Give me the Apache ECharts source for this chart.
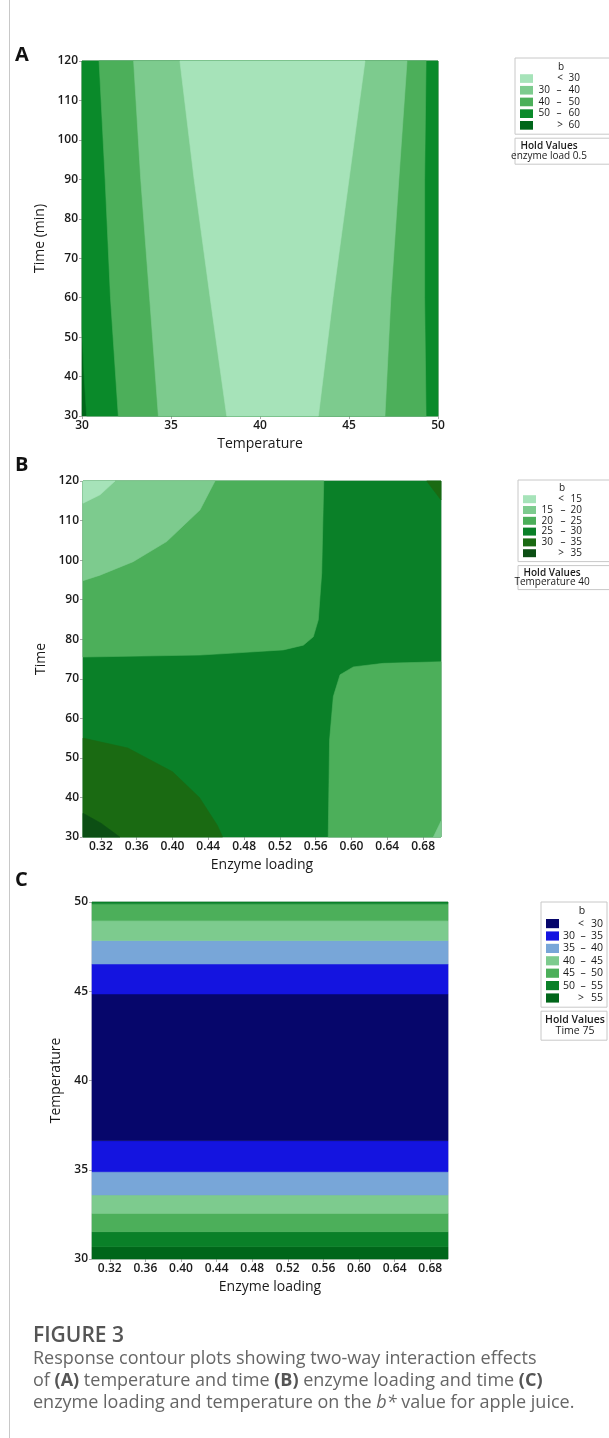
<!DOCTYPE html>
<html>
<head>
<meta charset="utf-8">
<script src="https://cdn.jsdelivr.net/npm/echarts@6/dist/echarts.min.js"></script>
<style>
  html, body { margin: 0; padding: 0; background: #fff; }
  #chart { width: 609px; height: 1438px; }
</style>
</head>
<body>
<div id="chart"></div>
<script>
// tick labels
const tempTicks = [30, 35, 40, 45, 50];
const timeTicks = [30, 40, 50, 60, 70, 80, 90, 100, 110, 120];
const enzymeTicks = [0.32, 0.36, 0.40, 0.44, 0.48, 0.52, 0.56, 0.60, 0.64, 0.68];

// ---- panel A : b vs temperature & time (enzyme load 0.5)
const levelsA = [['<', '30'], ['30', '40'], ['40', '50'], ['50', '60'], ['>', '60']];
const colorsA = ['#a6e3b9', '#7dcb8e', '#4caf5a', '#0a8a2a', '#00661a'];
// contour lines, [temperature, time], top to bottom
const a60Left = [[30, 120], [30, 52], [30.12, 40], [30.26, 30]];
const a60Right = [[50, 120], [50, 30]];
const a50Left = [[30.96, 120], [31.3, 90], [31.6, 60], [32.04, 30]];
const a50Right = [[49.33, 120], [49.25, 90], [49.25, 60], [49.33, 30]];
const a40Left = [[32.9, 120], [33.3, 90], [33.8, 60], [34.29, 30]];
const a40Right = [[48.26, 120], [47.8, 90], [47.35, 60], [47.02, 30]];
const a30Left = [[35.5, 120], [36.3, 90], [37.2, 60], [38.13, 30]];
const a30Right = [[45.9, 120], [45.0, 90], [44.1, 60], [43.28, 30]];

// ---- panel B : b vs enzyme loading & time (temperature 40)
const levelsB = [['<', '15'], ['15', '20'], ['20', '25'], ['25', '30'], ['30', '35'], ['>', '35']];
const colorsB = ['#a6e3b9', '#7dcb8e', '#4caf5a', '#0a8028', '#1a6a12', '#0c4f14'];
const bTopLeft20 = [[0.30, 120], [0.569, 120], [0.5667, 96.7], [0.5629, 84.9], [0.5573, 80.6],
  [0.5462, 78.5], [0.5238, 77.3], [0.468, 76.5], [0.4307, 76], [0.30, 75.5]];
const bTopLeft15 = [[0.30, 120], [0.4475, 120], [0.4307, 112.7], [0.3935, 104.7], [0.356, 99.6],
  [0.319, 96.2], [0.30, 94.8]];
const bTopLeftLow = [[0.30, 120], [0.3358, 120], [0.319, 116.5], [0.30, 114.4]];
const bBottomRight20 = [[0.574, 30], [0.5755, 54.5], [0.5797, 65.5], [0.5872, 71], [0.602, 73],
  [0.6355, 73.9], [0.70, 74.3], [0.70, 30]];
const bBottomRight15 = [[0.6915, 30], [0.70, 34], [0.70, 30]];
const bTopRight30 = [[0.684, 120], [0.70, 120], [0.70, 115.2]];
const bBottomLeft30 = [[0.30, 55], [0.35, 52.5], [0.40, 46.5], [0.43, 40], [0.45, 33], [0.456, 30], [0.30, 30]];
const bBottomLeft35 = [[0.30, 36], [0.32, 33.5], [0.341, 30], [0.30, 30]];

// ---- panel C : b vs enzyme loading & temperature (time 75)
const levelsC = [['<', '30'], ['30', '35'], ['35', '40'], ['40', '45'], ['45', '50'], ['50', '55'], ['>', '55']];
const colorsC = ['#06066b', '#1414e0', '#78a6d8', '#7dcb8e', '#4caf5a', '#0a8028', '#00661a'];
const cEdges = [30, 30.69, 31.53, 32.56, 33.59, 34.89, 36.63, 44.85, 46.53, 47.84, 48.96, 49.9, 50];
const cBandLevel = [6, 5, 4, 3, 2, 1, 0, 1, 2, 3, 4, 5];

// build polygons
function band(left, right) {
  return left.concat(right.slice().reverse());
}
const regionsA = [
  { level: 4, pts: band([[30, 120], [30, 30]], [[50, 120], [50, 30]]) },
  { level: 3, pts: band(a60Left, a60Right) },
  { level: 2, pts: band(a50Left, a50Right) },
  { level: 1, pts: band(a40Left, a40Right) },
  { level: 0, pts: band(a30Left, a30Right) }
];
const regionsB = [
  { level: 3, pts: [[0.30, 120], [0.70, 120], [0.70, 30], [0.30, 30]] },
  { level: 2, pts: bTopLeft20 },
  { level: 1, pts: bTopLeft15 },
  { level: 0, pts: bTopLeftLow },
  { level: 2, pts: bBottomRight20 },
  { level: 1, pts: bBottomRight15 },
  { level: 4, pts: bTopRight30 },
  { level: 4, pts: bBottomLeft30 },
  { level: 5, pts: bBottomLeft35 }
];
const regionsC = cBandLevel.map((lv, i) => ({
  level: lv,
  pts: [[0.30, cEdges[i]], [0.70, cEdges[i]], [0.70, cEdges[i + 1]], [0.30, cEdges[i + 1]]]
}));

function polySeries(idx, regions, colors) {
  return {
    type: 'custom',
    xAxisIndex: idx,
    yAxisIndex: idx,
    silent: true,
    data: regions.map((r, i) => i),
    renderItem: function (params, api) {
      const r = regions[params.dataIndex];
      const c = colors[r.level];
      return {
        type: 'polygon',
        shape: { points: r.pts.map(p => api.coord(p)) },
        style: { fill: c, stroke: c, lineWidth: 0.6 }
      };
    }
  };
}

const FONT = '"Open Sans", "Noto Sans", sans-serif';
const tickLabel = { color: '#1a1a1a', fontSize: 12, fontFamily: FONT, fontWeight: 600, margin: 4 };
const axisName = { color: '#1a1a1a', fontSize: 14, fontFamily: FONT };
const tick = { show: true, length: 3, lineStyle: { color: '#aaa' } };

function xAxis(idx, min, max, interval, name, custom) {
  const ax = {
    type: 'value', gridIndex: idx, min: min, max: max,
    name: name, nameLocation: 'middle', nameGap: 21, nameTextStyle: axisName,
    axisLine: { show: false }, splitLine: { show: false },
    axisTick: Object.assign({}, tick), axisLabel: Object.assign({}, tickLabel)
  };
  if (custom) {
    ax.axisLabel.customValues = custom;
    ax.axisLabel.formatter = v => v.toFixed(2);
    ax.axisTick.customValues = custom;
  } else {
    ax.interval = interval;
  }
  return ax;
}
function yAxis(idx, min, max, interval, name, gap) {
  return {
    type: 'value', gridIndex: idx, min: min, max: max, interval: interval,
    name: name, nameLocation: 'middle', nameGap: gap, nameTextStyle: axisName,
    axisLine: { show: false }, splitLine: { show: false },
    axisTick: tick, axisLabel: tickLabel
  };
}

// legends
function txt(x, y, s, fs, align, weight) {
  return { type: 'text', x: x, y: y,
    style: { text: s, font: (weight || '') + ' ' + fs + 'px ' + FONT, fill: '#1a1a1a',
      align: align, verticalAlign: 'middle' } };
}
// col = [first number right edge, dash centre, second number right edge, '<' centre]
function legendBox(x, y, w, rowH, fs, levels, colors, col, holdText, holdGap, holdH) {
  const els = [];
  const boxH = rowH * (levels.length + 1) + 6;
  els.push({ type: 'rect', shape: { x: x, y: y, width: w, height: boxH },
    style: { fill: '#fff', stroke: '#c8c8c8', lineWidth: 1 } });
  els.push(txt(x + col[3] + 1, y + 3 + rowH / 2, 'b', fs, 'center'));
  levels.forEach((lv, i) => {
    const cy = y + 3 + rowH * (i + 1.5);
    els.push({ type: 'rect', shape: { x: x + 5, y: cy - rowH * 0.37, width: 13, height: rowH * 0.74 },
      style: { fill: colors[i] } });
    if (lv[0] === '<' || lv[0] === '>') {
      els.push(txt(x + col[3], cy, lv[0], fs, 'center'));
    } else {
      els.push(txt(x + col[0], cy, lv[0], fs, 'right'));
      els.push(txt(x + col[1], cy, '–', fs, 'center'));
    }
    els.push(txt(x + col[2], cy, lv[1], fs, 'right'));
  });
  const hy = y + boxH + holdGap;
  els.push({ type: 'rect', shape: { x: x, y: hy, width: w, height: holdH },
    style: { fill: '#fff', stroke: '#c8c8c8', lineWidth: 1 } });
  els.push(txt(x + 34, hy + holdH * 0.3, 'Hold Values', fs, 'center', 600));
  els.push(txt(x + 34, hy + holdH * 0.7, holdText, fs, 'center'));
  return els;
}

const panelLabel = (t, y) => ({ type: 'text', x: 15, y: y,
  style: { text: t, font: 'bold 20px ' + FONT, fill: '#111', verticalAlign: 'middle' } });

const capFont = '18px ' + FONT;
const capRich = { b: { font: 'bold 18px ' + FONT, fill: '#555' }, i: { font: 'italic 18px ' + FONT, fill: '#666' } };
function capLine(text, y) {
  return { type: 'text', x: 33, y: y,
    style: { text: text, font: capFont, fill: '#666', verticalAlign: 'middle', rich: capRich } };
}

const chart = echarts.init(document.getElementById('chart'), null, { renderer: 'canvas' });
chart.setOption({
  animation: false,
  grid: [
    { left: 82, top: 61, width: 356, height: 355, show: true, borderColor: '#c8c8c8', borderWidth: 1 },
    { left: 83, top: 481, width: 358, height: 356, show: true, borderColor: '#c8c8c8', borderWidth: 1 },
    { left: 92, top: 902, width: 356, height: 357, show: true, borderColor: '#c8c8c8', borderWidth: 1 }
  ],
  xAxis: [
    xAxis(0, 30, 50, 5, 'Temperature'),
    xAxis(1, 0.3, 0.7, null, 'Enzyme loading', enzymeTicks),
    xAxis(2, 0.3, 0.7, null, 'Enzyme loading', enzymeTicks)
  ],
  yAxis: [
    yAxis(0, 30, 120, 10, 'Time (min)', 29),
    yAxis(1, 30, 120, 10, 'Time', 29),
    yAxis(2, 30, 50, 5, 'Temperature', 27)
  ],
  series: [
    polySeries(0, regionsA, colorsA),
    polySeries(1, regionsB, colorsB),
    polySeries(2, regionsC, colorsC)
  ],
  graphic: [
    { type: 'line', shape: { x1: 9.5, y1: 0, x2: 9.5, y2: 1438 }, style: { stroke: '#c8c8c8', lineWidth: 1 } },
    panelLabel('A', 55),
    panelLabel('B', 465),
    panelLabel('C', 880)
  ].concat(
    legendBox(515, 58, 110, 11.7, 10, levelsA, colorsA, [35, 44, 65, 45], 'enzyme load 0.5', 4, 26),
    legendBox(518, 480, 110, 10.8, 10, levelsB, colorsB, [35, 45, 64, 43], 'Temperature 40', 4, 24),
    legendBox(541, 902, 66, 12.4, 10.5, levelsC, colorsC, [34, 42, 62, 40], 'Time 75', 4, 29),
    [
      { type: 'text', x: 33, y: 1336, style: { text: 'FIGURE 3', font: '600 21px ' + FONT, fill: '#555', verticalAlign: 'middle' } },
      capLine('Response contour plots showing two-way interaction effects', 1359),
      capLine('of {b|(A)} temperature and time {b|(B)} enzyme loading and time {b|(C)}', 1381),
      capLine('enzyme loading and temperature on the {i|b*} value for apple juice.', 1403)
    ]
  )
});
</script>
</body>
</html>
